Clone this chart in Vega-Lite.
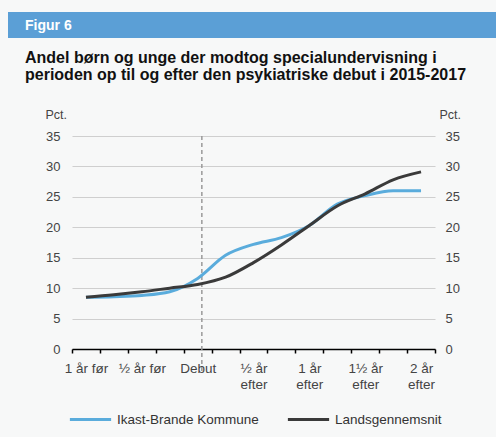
{
  "$schema": "https://vega.github.io/schema/vega-lite/v6.json",
  "background": "#f7f8f8",
  "padding": {"left": 8, "top": 12, "right": 0, "bottom": 11},
  "autosize": {"type": "pad"},
  "spacing": 12,
  "config": {
    "font": "Liberation Sans",
    "view": {"stroke": null}
  },
  "datasets": {
    "d": [
      {"m": -12, "series": "Ikast-Brande Kommune", "v": 8.5},
      {"m": -9, "series": "Ikast-Brande Kommune", "v": 8.6},
      {"m": -6, "series": "Ikast-Brande Kommune", "v": 8.8},
      {"m": -3, "series": "Ikast-Brande Kommune", "v": 9.4},
      {"m": 0, "series": "Ikast-Brande Kommune", "v": 11.6},
      {"m": 3, "series": "Ikast-Brande Kommune", "v": 15.4},
      {"m": 6, "series": "Ikast-Brande Kommune", "v": 17.2},
      {"m": 9, "series": "Ikast-Brande Kommune", "v": 18.3},
      {"m": 12, "series": "Ikast-Brande Kommune", "v": 20.3},
      {"m": 15, "series": "Ikast-Brande Kommune", "v": 23.8},
      {"m": 18, "series": "Ikast-Brande Kommune", "v": 25.2},
      {"m": 21, "series": "Ikast-Brande Kommune", "v": 26.0},
      {"m": 24, "series": "Ikast-Brande Kommune", "v": 26.0},
      {"m": -12, "series": "Landsgennemsnit", "v": 8.5},
      {"m": -9, "series": "Landsgennemsnit", "v": 8.9},
      {"m": -6, "series": "Landsgennemsnit", "v": 9.4},
      {"m": -3, "series": "Landsgennemsnit", "v": 10.0},
      {"m": 0, "series": "Landsgennemsnit", "v": 10.6},
      {"m": 3, "series": "Landsgennemsnit", "v": 11.8},
      {"m": 6, "series": "Landsgennemsnit", "v": 14.2},
      {"m": 9, "series": "Landsgennemsnit", "v": 17.1},
      {"m": 12, "series": "Landsgennemsnit", "v": 20.3},
      {"m": 15, "series": "Landsgennemsnit", "v": 23.5},
      {"m": 18, "series": "Landsgennemsnit", "v": 25.5},
      {"m": 21, "series": "Landsgennemsnit", "v": 27.8},
      {"m": 24, "series": "Landsgennemsnit", "v": 29.1}
    ]
  },
  "vconcat": [
    {
      "width": 488,
      "height": 26,
      "data": {"values": [{"k": "Figur 6"}]},
      "mark": {"type": "rect", "color": "#5b9fd6"},
      "encoding": {
        "x": {"value": 0}, "x2": {"value": "width"},
        "y": {"value": 0}, "y2": {"value": "height"}
      },
      "title": {"text": "Figur 6", "orient": "bottom", "anchor": "start", "frame": "group", "dx": 17, "offset": -8, "baseline": "alphabetic", "color": "#ffffff", "fontSize": 14, "fontWeight": "bold"}
    },
    {
      "spacing": 16,
      "hconcat": [
        {
          "width": 1,
          "height": 1,
          "data": {"values": []},
          "mark": "point"
        },
        {
          "width": 363,
          "height": 213,
          "title": {
            "text": ["Andel børn og unge der modtog specialundervisning i", "perioden op til og efter den psykiatriske debut i 2015-2017"],
            "anchor": "start", "frame": "group", "dx": -47, "offset": 25,
            "fontSize": 16, "fontWeight": "bold", "color": "#111111", "lineHeight": 17
          },
          "data": {"name": "d"},
          "layer": [
            {
              "data": {"values": [{"m": 0}]},
              "mark": {"type": "rule", "strokeDash": [4, 3], "color": "#9a9a9a", "strokeWidth": 1.5},
              "encoding": {
                "x": {"field": "m", "type": "ordinal", "bandPosition": 0.65,
                  "scale": {"type": "band", "domain": [-12, -9, -6, -3, 0, 3, 6, 9, 12, 15, 18, 21, 24], "paddingInner": 0, "paddingOuter": 0},
                  "axis": {"tickBand": "extent", "labelAngle": 0, "title": null, "grid": false, "labelOverlap": false,
                    "labelExpr": "datum.value == -12 ? '1 år før' : datum.value == -6 ? '½ år før' : datum.value == 0 ? 'Debut' : datum.value == 6 ? ['½ år', 'efter'] : datum.value == 12 ? ['1 år', 'efter'] : datum.value == 18 ? ['1½ år', 'efter'] : datum.value == 24 ? ['2 år', 'efter'] : ''",
                    "domainColor": "#000000", "domainWidth": 1.5, "tickColor": "#000000", "tickSize": 4, "tickWidth": 1.5,
                    "labelFontSize": 13.5, "labelColor": "#444444", "labelPadding": 8, "labelLineHeight": 16, "labelBaseline": "top"}},
                "y": {"datum": 35, "type": "quantitative", "scale": {"domain": [0, 35], "nice": false}, "axis": null},
                "y2": {"datum": -3.8}
              }
            },
            {
              "transform": [{"filter": "datum.series == 'Ikast-Brande Kommune'"}],
              "mark": {"type": "line", "strokeWidth": 3, "interpolate": "monotone"},
              "encoding": {
                "x": {"field": "m", "type": "ordinal", "bandPosition": 0.5,
                  "scale": {"type": "band", "domain": [-12, -9, -6, -3, 0, 3, 6, 9, 12, 15, 18, 21, 24], "paddingInner": 0, "paddingOuter": 0},
                  "axis": {"tickBand": "extent", "labelAngle": 0, "title": null, "grid": false, "labelOverlap": false,
                    "labelExpr": "datum.value == -12 ? '1 år før' : datum.value == -6 ? '½ år før' : datum.value == 0 ? 'Debut' : datum.value == 6 ? ['½ år', 'efter'] : datum.value == 12 ? ['1 år', 'efter'] : datum.value == 18 ? ['1½ år', 'efter'] : datum.value == 24 ? ['2 år', 'efter'] : ''",
                    "domainColor": "#000000", "domainWidth": 1.5, "tickColor": "#000000", "tickSize": 4, "tickWidth": 1.5,
                    "labelFontSize": 13.5, "labelColor": "#444444", "labelPadding": 8, "labelLineHeight": 16, "labelBaseline": "top"}},
                "y": {"field": "v", "type": "quantitative", "scale": {"domain": [0, 35], "nice": false},
                  "axis": {"orient": "left", "values": [0, 5, 10, 15, 20, 25, 30, 35], "domain": false, "ticks": false, "grid": true, "gridColor": "#cfcfcf",
                    "labelColor": "#444444", "labelFontSize": 13, "labelPadding": 12,
                    "title": "Pct.", "titleAngle": 0, "titleX": -27, "titleY": -18, "titleAlign": "left", "titleBaseline": "alphabetic",
                    "titleFontWeight": "normal", "titleFontSize": 12.5, "titleColor": "#444444"}},
                "color": {"field": "series", "type": "nominal",
                  "scale": {"domain": ["Ikast-Brande Kommune", "Landsgennemsnit"], "range": ["#5aacdc", "#3a3a3a"]},
                  "legend": {"orient": "none", "legendX": 60, "legendY": 385, "direction": "horizontal", "title": null, "symbolType": "stroke", "symbolStrokeWidth": 3, "symbolSize": 1700, "labelFontSize": 13.5, "labelColor": "#333333", "columnPadding": 22}}
              }
            },
            {
              "transform": [{"filter": "datum.series == 'Landsgennemsnit'"}],
              "mark": {"type": "line", "strokeWidth": 3, "interpolate": "monotone"},
              "encoding": {
                "x": {"field": "m", "type": "ordinal", "bandPosition": 0.5,
                  "scale": {"type": "band", "domain": [-12, -9, -6, -3, 0, 3, 6, 9, 12, 15, 18, 21, 24], "paddingInner": 0, "paddingOuter": 0},
                  "axis": {"tickBand": "extent", "labelAngle": 0, "title": null, "grid": false, "labelOverlap": false,
                    "labelExpr": "datum.value == -12 ? '1 år før' : datum.value == -6 ? '½ år før' : datum.value == 0 ? 'Debut' : datum.value == 6 ? ['½ år', 'efter'] : datum.value == 12 ? ['1 år', 'efter'] : datum.value == 18 ? ['1½ år', 'efter'] : datum.value == 24 ? ['2 år', 'efter'] : ''",
                    "domainColor": "#000000", "domainWidth": 1.5, "tickColor": "#000000", "tickSize": 4, "tickWidth": 1.5,
                    "labelFontSize": 13.5, "labelColor": "#444444", "labelPadding": 8, "labelLineHeight": 16, "labelBaseline": "top"}},
                "y": {"field": "v", "type": "quantitative", "scale": {"domain": [0, 35], "nice": false},
                  "axis": {"orient": "right", "values": [0, 5, 10, 15, 20, 25, 30, 35], "domain": false, "ticks": false, "grid": false,
                    "labelColor": "#444444", "labelFontSize": 13, "labelPadding": 10,
                    "title": "Pct.", "titleAngle": 0, "titleX": 4, "titleY": -18, "titleAlign": "left", "titleBaseline": "alphabetic",
                    "titleFontWeight": "normal", "titleFontSize": 12.5, "titleColor": "#444444"}},
                "color": {"field": "series", "type": "nominal",
                  "scale": {"domain": ["Ikast-Brande Kommune", "Landsgennemsnit"], "range": ["#5aacdc", "#3a3a3a"]},
                  "legend": {"orient": "none", "legendX": 60, "legendY": 385, "direction": "horizontal", "title": null, "symbolType": "stroke", "symbolStrokeWidth": 3, "symbolSize": 1700, "labelFontSize": 13.5, "labelColor": "#333333", "columnPadding": 22}}
              }
            }
          ],
          "resolve": {"scale": {"y": "shared"}, "axis": {"y": "independent"}}
        }
      ]
    }
  ]
}
